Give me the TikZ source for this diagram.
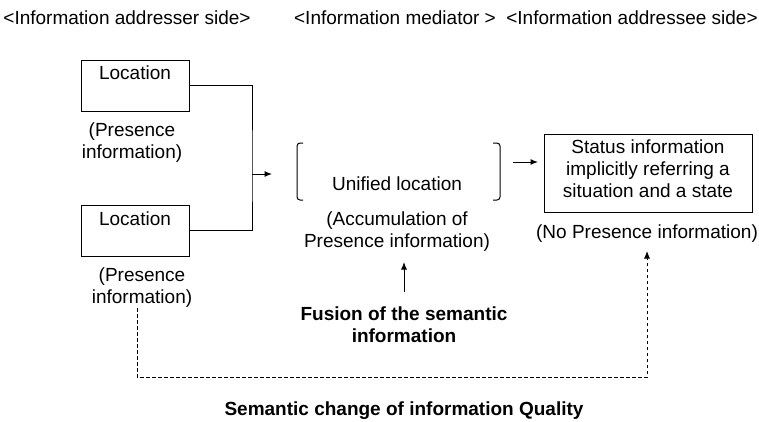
\documentclass[tikz,border=0pt]{standalone}
\usepackage{fontspec}
\setmainfont{Liberation Sans}
\usetikzlibrary{arrows.meta}
\begin{document}
\begin{tikzpicture}[x=1pt,y=-1pt,
  every node/.style={font=\fontsize{19}{22}\selectfont, inner sep=0pt},
  box/.style={draw, line width=1pt, minimum width=108pt, minimum height=51pt},
  txt/.style={anchor=base, align=center},
  conn/.style={line width=1pt},
  arr/.style={conn, -{Latex[length=7.5pt,width=6pt]}},
  dashlink/.style={line width=0.8pt, dash pattern=on 3.5pt off 2.5pt, -{Latex[length=7.5pt,width=6pt]}}
]
\useasboundingbox (0,0) rectangle (759,421);

% column headings
\node[txt] (h1) at (127,24) {<Information addresser side>};
\node[txt] (h2) at (395,24) {<Information mediator >};
\node[txt] (h3) at (632,24) {<Information addressee side>};

% addresser side: two location boxes
% (multi-line texts are placed by the baseline of their last line)
\node[box] (loc1) at (135,85.5) {};
\node[txt] (loc1t) at (135,79) {Location};
\node[txt] (pres1) at (132,158) {(Presence\\information)};

\node[box] (loc2) at (135,230.5) {};
\node[txt] (loc2t) at (135,225) {Location};
\node[txt] (pres2) at (142,303) {(Presence\\information)};

% joining lines and arrow into the mediator
\coordinate (j) at (252,174);
\coordinate (jend) at (272,174);
\draw[conn] (loc1.east) -| (j) |- (loc2.east);
\draw[arr] (j) -- (jend);

% mediator: bracketed unified location
\draw[conn, rounded corners=3pt] (303,143) -- (297,143) -- (297,200) -- (303,200);
\draw[conn, rounded corners=3pt] (493,143) -- (500,143) -- (500,200) -- (493,200);
\node[txt] (unified) at (397,190) {Unified location};
\node[txt] (accum) at (397,247) {(Accumulation of\\Presence information)};

% addressee side: status box
\node[draw, line width=1pt, minimum width=208pt, minimum height=78pt] (status) at (648,173) {};
\node[txt] (statust) at (648,197) {Status information\\implicitly referring a\\situation and a state};
\node[txt] (nopres) at (647,238) {(No Presence information)};
\coordinate (m1) at (513,162);
\coordinate (m2) at (538,162);
\draw[arr] (m1) -- (m2);

% fusion
\node[txt, font=\fontsize{19}{22}\selectfont\bfseries] (fusion) at (404,342) {Fusion of the semantic\\information};
\coordinate (f1) at (404,292);
\coordinate (f2) at (404,262);
\draw[arr] (f1) -- (f2);

% semantic change loop
\coordinate (d1) at (137,308);
\coordinate (d2) at (647,251);
\draw[dashlink] (d1) |- (400,377) -| (d2);
\node[txt, font=\fontsize{19}{22}\selectfont\bfseries] (change) at (404,415) {Semantic change of information Quality};
\end{tikzpicture}
\end{document}
